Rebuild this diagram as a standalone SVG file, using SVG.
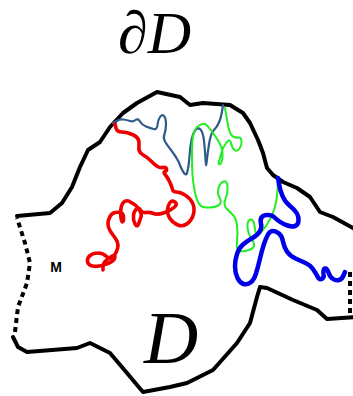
<svg xmlns="http://www.w3.org/2000/svg" width="353" height="396" viewBox="0 0 353 396">
<style>
.b{fill:none;stroke:#000;stroke-width:4;stroke-linejoin:round;stroke-linecap:round}
.d{fill:none;stroke:#000;stroke-width:4;stroke-dasharray:5 4}
.w{fill:none;stroke-linejoin:round;stroke-linecap:round}
.red{stroke:#ee0000;stroke-width:3.6}
.navy{stroke:#2f5b8a;stroke-width:2.2}
.grn{stroke:#22ee22;stroke-width:2}
.blu{stroke:#0000e8;stroke-width:4.5}
.lbl{font-family:"Liberation Serif",serif;font-style:italic}
</style>
<rect width="353" height="396" fill="#fff"/>
<g id="boundary">
<polyline class="b" points="17,216 50,213 62,203 72,187 80,167 88,150 100,142 110,127 123,113 137,103 157,92 180,97 190,105 203,103 230,105 243,113 250,123 258,140 263,153 267,168 273,175 283,182 297,188 310,197 320,212 333,217 355,229"/>
<polyline class="b" points="355,317 327,319 317,310 293,300 267,288 260,287 257,297 250,323 237,343 213,370 187,383 170,387 143,392 137,385 127,373 110,353 90,343 77,348 27,352 18,347 13,337"/>
<polyline class="d" points="15,332 18,307 27,283 30,263 25,243 17,218"/>
<line class="d" x1="350" y1="272" x2="350" y2="318"/>
</g>
<g id="paths">
<path class="w navy" d="M113,123 L116.5,121 Q120,119 123.5,119.5 Q127,120 130,121 Q133,122 135.5,120 Q138,118 140,121.5 Q142,125 146,126.5 Q150,128 153.5,129 Q157,130 157.5,125 Q158,120 160,117 Q162,114 164,116 Q166,118 166,124 Q166,130 164.5,134 Q163,138 165,141.5 Q167,145 171,150 Q175,155 178.5,161.5 Q186,181 187.5,171 Q189,165 189.5,156 Q190,147 191.5,140 Q193,133 195.5,130 Q198,127 200.5,129.5 Q203,132 204,141 Q205,150 205.5,159 Q206,172 207,159 Q208,150 209.5,141.5 Q211,133 214,130 Q217,127 219,122.5 Q221,118 222,111.5 L223,105"/>
<path class="w red" d="M115,124 L116,128 Q117,132 122,132 Q127,132 133.5,135 Q140,138 139,145 Q138,152 142.5,154.5 Q147,157 151,161 Q155,165 157.5,166.5 Q160,168 163,167.5 Q166,167 166.5,169 Q167,171 165,171.5 Q163,172 165.5,175 Q168,178 170,182.5 Q172,187 172.5,189.5 Q173,192 176.5,192 Q180,192 185,195 Q190,198 192.5,203 Q195,208 193.5,214 Q192,220 187.5,223.5 Q183,227 178,225 Q173,223 170,218.5 Q167,214 167.5,209.5 Q168,205 170,202.5 Q172,200 175,202 Q178,204 174,207.5 Q170,211 163.5,213 Q157,215 153.5,213.5 Q150,212 146,212.5 Q142,213 140.5,210 Q139,207 136.5,209 Q134,211 133.5,215.5 Q133,220 135,224 Q137,228 138.5,224 Q140,220 141,217 Q142,214 139.5,210 Q137,206 134.5,204.5 Q132,203 129.5,201.5 Q127,200 124.5,201.5 Q122,203 121,208 Q120,213 121,218 Q122,223 123,221.5 Q124,220 123.5,216.5 Q123,213 120.5,212.5 Q118,212 115,212.5 Q112,213 110,216.5 Q108,220 108,224 Q108,228 110.5,231.5 Q113,235 115.5,238.5 Q118,242 118,245 Q118,248 116.5,251.5 Q115,255 112.5,257.5 Q110,260 106.5,256.5 Q103,253 98,253 Q93,253 90,255.5 Q87,258 87.5,261.5 Q88,265 92.5,266 Q97,267 103.5,265 Q110,263 112.5,261 Q115,259 115,257 Q115,255 112.5,256 Q110,257 106.5,260 Q103,263 103,266.5 L103,270"/>
<path class="w grn" d="M225,108 L226,114 Q227,120 228.5,127.5 Q230,135 233,136.5 Q236,138 238.5,137.5 Q241,137 241.5,141 Q242,145 239.5,148.5 Q237,152 234.5,150 Q232,148 231,143 Q230,138 226.5,142.5 Q223,147 221.5,152.5 Q220,158 219,161.5 Q218,165 220,164 Q222,163 222.5,157.5 Q223,152 221.5,147.5 Q220,143 216.5,138 Q213,133 210,129 Q207,125 205,124 Q203,123 199,125.5 Q195,128 193.5,134 Q192,140 192,153.5 Q192,167 192.5,175 Q193,183 195,192.5 Q197,202 200,205 Q203,208 210,207.5 Q217,207 219.5,204.5 Q222,202 219.5,197.5 Q217,193 218.5,188 Q220,183 223.5,181.5 Q227,180 227.5,186.5 Q228,193 225.5,199 Q223,205 226.5,208.5 Q230,212 233,215 Q236,218 237,225.5 Q238,233 237,241.5 Q236,250 239.5,251 Q243,252 249,250 Q255,248 254,244 Q253,240 251.5,238.5 Q250,237 248.5,232.5 Q247,228 247.5,224 Q248,220 250.5,219.5 Q253,219 254,223.5 Q255,228 255.5,232 Q256,236 259,234 Q262,232 267,224.5 Q272,217 274.5,208.5 Q277,200 277.5,190 L278,180"/>
<path class="w blu" d="M278,178 L279,184 Q280,190 282.5,196 Q285,202 290,206 Q295,210 297,213.5 Q299,217 298.5,221 Q298,225 295,226 Q292,227 287.5,225.5 Q283,224 279.5,221.5 Q276,219 274,217 Q272,215 267.5,215 Q263,215 261.5,217.5 Q260,220 261,223.5 Q262,227 260,231 Q258,235 252.5,238 Q247,241 243,244.5 Q239,248 237,254 Q235,260 235,266.5 Q235,273 237.5,278 Q240,283 243.5,284 Q247,285 250.5,282.5 Q254,280 256,273.5 Q258,267 260,258.5 Q262,250 264,244 Q266,238 268,234.5 Q270,231 273,231 Q276,231 279,233.5 Q282,236 283,241.5 Q284,247 287,251.5 Q290,256 295.5,258.5 Q301,261 305.5,263 Q310,265 312.5,268.5 Q315,272 317,275.5 Q319,280 321.5,279 Q324.5,278 323.5,274 Q323,269 325,268.5 Q327,268 328.5,272.5 Q330,277 333,279 Q336,281 339,280 Q342,279 343.5,275.5 L345,272"/>
</g>
<g id="labels">
<text class="lbl" x="118" y="53" font-size="60">∂D</text>
<text class="lbl" x="144" y="363" font-size="75">D</text>
<text x="56" y="272" font-family="Liberation Sans,sans-serif" font-weight="bold" font-size="14" text-anchor="middle">M</text>
</g>
</svg>
